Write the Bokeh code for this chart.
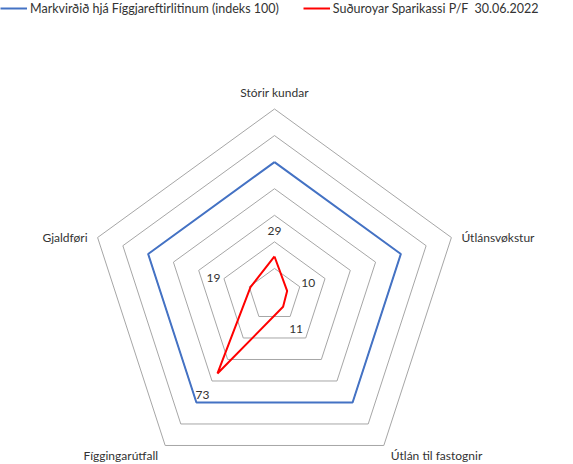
import math
from bokeh.plotting import figure
from bokeh.models import Range1d, Legend, LegendItem
from bokeh.core.properties import value
from bokeh.embed import file_html
from bokeh.resources import INLINE

# ---- data ----
categories = ["Stórir kundar", "Útlánsvøkstur", "Útlán til fastognir", "Fíggingarútfall", "Gjaldføri"]
target_values = [100, 100, 100, 100, 100]
bank_values = [29, 10, 11, 73, 19]
grid_levels = [20, 40, 60, 80, 100, 120, 140]
series_names = ["Markvirðið hjá Fíggjareftirlitinum (indeks 100)", "Suðuroyar Sparikassi P/F  30.06.2022"]

# ---- layout / style ----
W, H = 565, 464
R_MAX = 140
k = 186 / R_MAX          # px per unit
cx, cy = 274, 294.5      # centre in figure px (from top-left)
FONT = "Lato"
TXT = "#333333"

def ang(i):
    return math.radians(90 - 72 * i)

def pt(i, r):
    return r * math.cos(ang(i)), r * math.sin(ang(i))

p = figure(width=W, height=H, output_backend="svg", toolbar_location=None,
           x_axis_location=None, y_axis_location=None, min_border=0,
           x_range=Range1d(-cx / k, (W - cx) / k),
           y_range=Range1d(-(H - cy) / k, cy / k))
p.grid.visible = False
p.outline_line_color = None
p.background_fill_color = "white"

n = len(categories)
gx, gy = [], []
for lv in grid_levels:
    xs = [pt(i, lv)[0] for i in range(n)] + [pt(0, lv)[0]]
    ys = [pt(i, lv)[1] for i in range(n)] + [pt(0, lv)[1]]
    gx.append(xs); gy.append(ys)
p.multi_line(gx, gy, line_color="#A6A6A6", line_width=1)

def closed(vals):
    xs = [pt(i, v)[0] for i, v in enumerate(vals)]
    ys = [pt(i, v)[1] for i, v in enumerate(vals)]
    return xs + xs[:1], ys + ys[:1]

tx, ty = closed(target_values)
r_blue = p.line(tx, ty, line_color="#4472C4", line_width=2)
bx, by = closed(bank_values)
r_red = p.line(bx, by, line_color="#FF0000", line_width=2)

# axis labels
lab_off = [(0, -17), (10, 0), (7, 10), (-7, 10), (-10, 0)]
lab_align = ["center", "left", "left", "right", "right"]
lx, ly = [], []
for i in range(n):
    x, y = pt(i, R_MAX)
    lx.append(x + lab_off[i][0] / k)
    ly.append(y - lab_off[i][1] / k)
p.text(x=lx, y=ly, text=categories, text_align=lab_align, text_baseline="middle",
       text_font=value(FONT), text_font_size="12px", text_color=TXT)

# data labels
dl_off = [(0, -25), (21, -8), (13, 22), (-15, 22), (-37, -9)]
dx, dy = [], []
for i, v in enumerate(bank_values):
    x, y = pt(i, v)
    dx.append(x + dl_off[i][0] / k)
    dy.append(y - dl_off[i][1] / k)
p.text(x=dx, y=dy, text=[str(v) for v in bank_values], text_align="center",
       text_baseline="middle", text_font=value(FONT), text_font_size="12px", text_color=TXT)

legend = Legend(items=[LegendItem(label=series_names[0], renderers=[r_blue]),
                       LegendItem(label=series_names[1], renderers=[r_red])],
                location="top_left", orientation="horizontal", margin=0, padding=0,
                spacing=24, glyph_width=27, glyph_height=16, label_standoff=3,
                label_text_font=FONT, label_text_font_size="12.5px", label_text_color=TXT,
                border_line_color=None, background_fill_alpha=0)
p.add_layout(legend)

open("out.html", "w").write(file_html(p, INLINE))
